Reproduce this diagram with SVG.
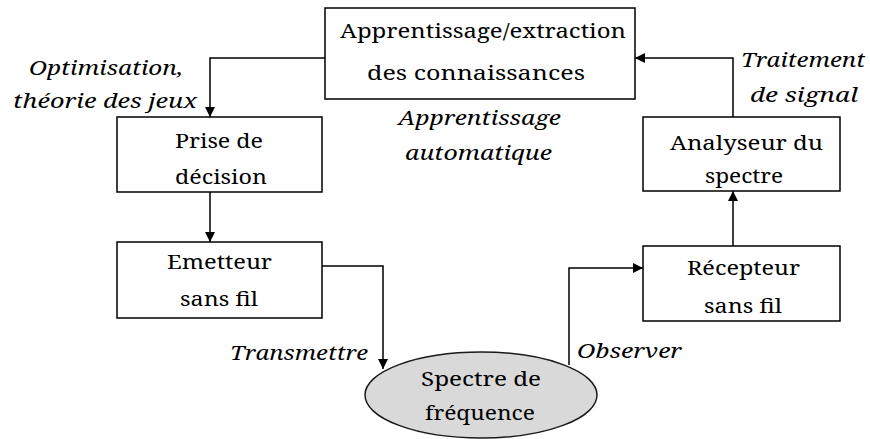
<svg xmlns="http://www.w3.org/2000/svg" width="870" height="439" viewBox="0 0 870 439">
  <style>
    .box { fill: #ffffff; stroke: #000000; stroke-width: 1.5; }
    .ell { fill: #d9d9d9; stroke: #1a1a1a; stroke-width: 1.5; }
    .wire { fill: none; stroke: #000000; stroke-width: 1.5; }
  </style>
  <defs>
    <marker id="arrow" viewBox="0 0 10 10" refX="10" refY="5" markerWidth="10" markerHeight="10" markerUnits="userSpaceOnUse" orient="auto">
      <path d="M0,0 L10,5 L0,10 Z" fill="#000000"/>
    </marker>
  </defs>

  <rect width="870" height="439" fill="#ffffff"/>

  <!-- connectors -->
  <g id="connectors">
    <path class="wire" d="M325,58 H210 V117" marker-end="url(#arrow)"/>
    <path class="wire" d="M210,192 V242" marker-end="url(#arrow)"/>
    <path class="wire" d="M322,266 H383 V369" marker-end="url(#arrow)"/>
    <path class="wire" d="M569,365 V268 H643" marker-end="url(#arrow)"/>
    <path class="wire" d="M733,246 V191" marker-end="url(#arrow)"/>
    <path class="wire" d="M733,117 V58 H635" marker-end="url(#arrow)"/>
  </g>

  <g font-family="'Noto Serif', 'Liberation Serif', serif" font-size="20" fill="#000000">
    <!-- edge labels -->
    <g id="labels" font-style="italic">
      <text x="29" y="75" textLength="154" lengthAdjust="spacingAndGlyphs">Optimisation,</text>
      <text x="13" y="108" textLength="184" lengthAdjust="spacingAndGlyphs">théorie des jeux</text>
      <text x="398" y="125" textLength="163" lengthAdjust="spacingAndGlyphs">Apprentissage</text>
      <text x="405" y="160" textLength="147" lengthAdjust="spacingAndGlyphs">automatique</text>
      <text x="741" y="67" textLength="124" lengthAdjust="spacingAndGlyphs">Traitement</text>
      <text x="750" y="102" textLength="108" lengthAdjust="spacingAndGlyphs">de signal</text>
      <text x="230" y="360" textLength="138" lengthAdjust="spacingAndGlyphs">Transmettre</text>
      <text x="577" y="358" textLength="105" lengthAdjust="spacingAndGlyphs">Observer</text>
    </g>

    <g id="knowledge">
      <rect class="box" x="325" y="8" width="310" height="91"/>
      <text x="340" y="38" textLength="286" lengthAdjust="spacingAndGlyphs">Apprentissage/extraction</text>
      <text x="367" y="80" textLength="218" lengthAdjust="spacingAndGlyphs">des connaissances</text>
    </g>

    <g id="decision">
      <rect class="box" x="117" y="117" width="205" height="75"/>
      <text x="175" y="148" textLength="88" lengthAdjust="spacingAndGlyphs">Prise de</text>
      <text x="175" y="184" textLength="92" lengthAdjust="spacingAndGlyphs">décision</text>
    </g>

    <g id="emitter">
      <rect class="box" x="117" y="242" width="205" height="76"/>
      <text x="167" y="269" textLength="105" lengthAdjust="spacingAndGlyphs">Emetteur</text>
      <text x="180" y="306" textLength="78" lengthAdjust="spacingAndGlyphs">sans fil</text>
    </g>

    <g id="analyzer">
      <rect class="box" x="643" y="117" width="197" height="74"/>
      <text x="670" y="150" textLength="153" lengthAdjust="spacingAndGlyphs">Analyseur du</text>
      <text x="705" y="183" textLength="78" lengthAdjust="spacingAndGlyphs">spectre</text>
    </g>

    <g id="receiver">
      <rect class="box" x="643" y="246" width="197" height="75"/>
      <text x="687" y="275" textLength="113" lengthAdjust="spacingAndGlyphs">Récepteur</text>
      <text x="704" y="313" textLength="78" lengthAdjust="spacingAndGlyphs">sans fil</text>
    </g>

    <g id="spectrum">
      <ellipse class="ell" cx="481" cy="395" rx="116" ry="43"/>
      <text x="421" y="386" textLength="120" lengthAdjust="spacingAndGlyphs">Spectre de</text>
      <text x="425" y="420" textLength="110" lengthAdjust="spacingAndGlyphs">fréquence</text>
    </g>
  </g>
</svg>
